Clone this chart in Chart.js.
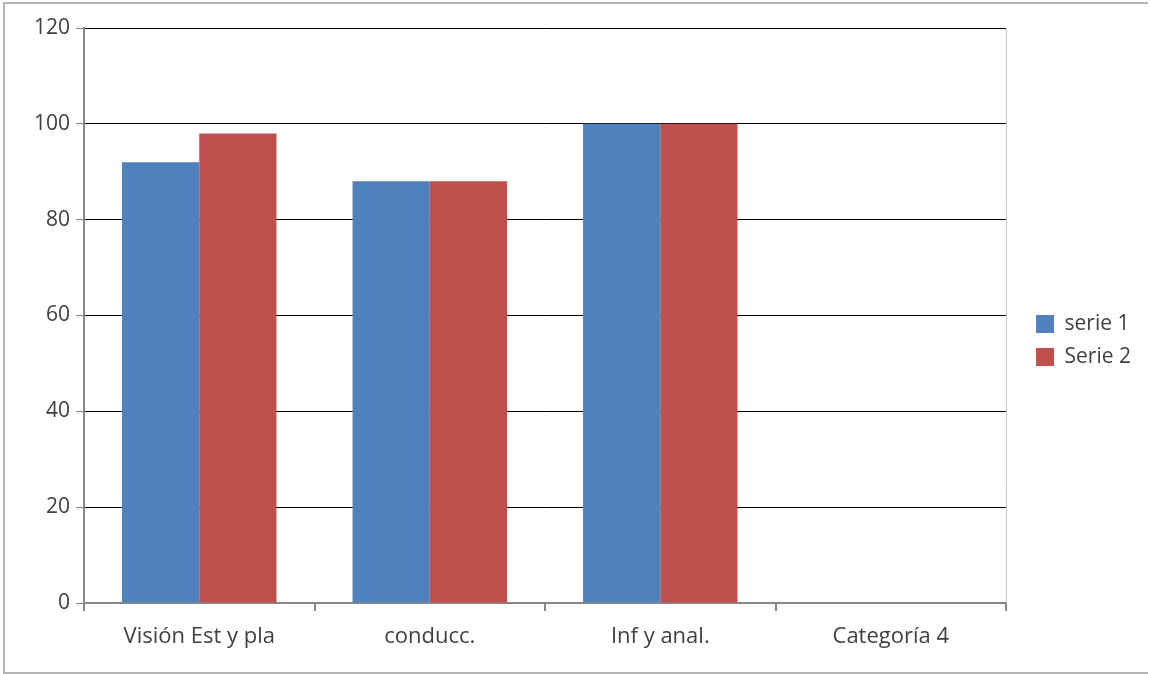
<!DOCTYPE html>
<html>
<head>
<meta charset="utf-8">
<script src="https://cdn.jsdelivr.net/npm/chart.js@4/dist/chart.umd.min.js"></script>
<style>
    html, body { margin: 0; padding: 0; background: #fff; }
    #marco { position: absolute; left: 3px; top: 2px; width: 1143px; height: 668px; border: 2px solid #b4b4b4; border-right: none; }
    #lienzo { position: absolute; left: 0; top: 0; width: 1151px; height: 674px; }
</style>
</head>
<body>
<div id="marco"></div>
<div id="lienzo"><canvas id="grafico" width="1151" height="674"></canvas></div>
<script>
// Datos del gráfico
const categorias = ['Visión Est y pla', 'conducc.', 'Inf y anal.', 'Categoría 4'];
const serie1 = [92, 88, 100, null];
const serie2 = [98, 88, 100, null];
const nombresSeries = ['serie 1', 'Serie 2'];
const ticksY = [0, 20, 40, 60, 80, 100, 120];

const fuenteY = { family: 'Open Sans', size: 21 };
const fuenteX = { family: 'Open Sans', size: 22 };
const fuenteLeyenda = { family: 'Open Sans', size: 21 };

// Borde derecho del área de trazado y leyenda un poco más a la derecha
const bordeDerecho = {
    id: 'bordeDerecho',
    afterLayout(chart) {
        const ley = chart.legend;
        const dx = chart.chartArea.right + 28 - 10 - ley.left;
        ley.left += dx;
        ley.right += dx;
    },
    afterDraw(chart) {
        const a = chart.chartArea;
        const ctx = chart.ctx;
        ctx.save();
        ctx.strokeStyle = '#c8c8c8';
        ctx.lineWidth = 1;
        ctx.beginPath();
        ctx.moveTo(a.right + 0.5, a.top);
        ctx.lineTo(a.right + 0.5, a.bottom);
        ctx.stroke();
        ctx.restore();
    }
};

document.addEventListener('DOMContentLoaded', function () {
    const ctx = document.getElementById('grafico').getContext('2d');

    new Chart(ctx, {
        type: 'bar',
        data: {
            labels: categorias,
            datasets: [{
                label: nombresSeries[0],
                data: serie1,
                backgroundColor: '#4F81BD'
            }, {
                label: nombresSeries[1],
                data: serie2,
                backgroundColor: '#C0504D'
            }]
        },
        options: {
            responsive: false,
            animation: false,
            layout: { padding: { top: 28, left: 0, right: 28, bottom: 21 } },
            datasets: {
                bar: { categoryPercentage: 0.67, barPercentage: 1 }
            },
            scales: {
                x: {
                    grid: {
                        offset: true,
                        drawOnChartArea: false,
                        drawTicks: true,
                        tickLength: 8,
                        color: '#868686',
                        lineWidth: 2
                    },
                    border: { color: '#868686', width: 2 },
                    ticks: { color: '#404040', font: fuenteX, padding: 13 },
                    afterFit(scale) { scale.height = 50; }
                },
                y: {
                    min: 0,
                    max: 120,
                    afterBuildTicks(scale) {
                        scale.ticks = ticksY.map(v => ({ value: v }));
                    },
                    grid: {
                        color: '#000',
                        lineWidth: 1,
                        drawTicks: true,
                        tickLength: 8,
                        tickColor: '#868686'
                    },
                    border: { color: '#868686', width: 2 },
                    ticks: { color: '#404040', font: fuenteY, padding: 6 },
                    afterFit(scale) { scale.width = 84; }
                }
            },
            plugins: {
                legend: {
                    position: 'right',
                    labels: {
                        color: '#404040',
                        font: fuenteLeyenda,
                        boxWidth: 18,
                        boxHeight: 18,
                        padding: 12
                    }
                },
                tooltip: { enabled: false }
            }
        },
        plugins: [bordeDerecho]
    });
});
</script>
</body>
</html>
